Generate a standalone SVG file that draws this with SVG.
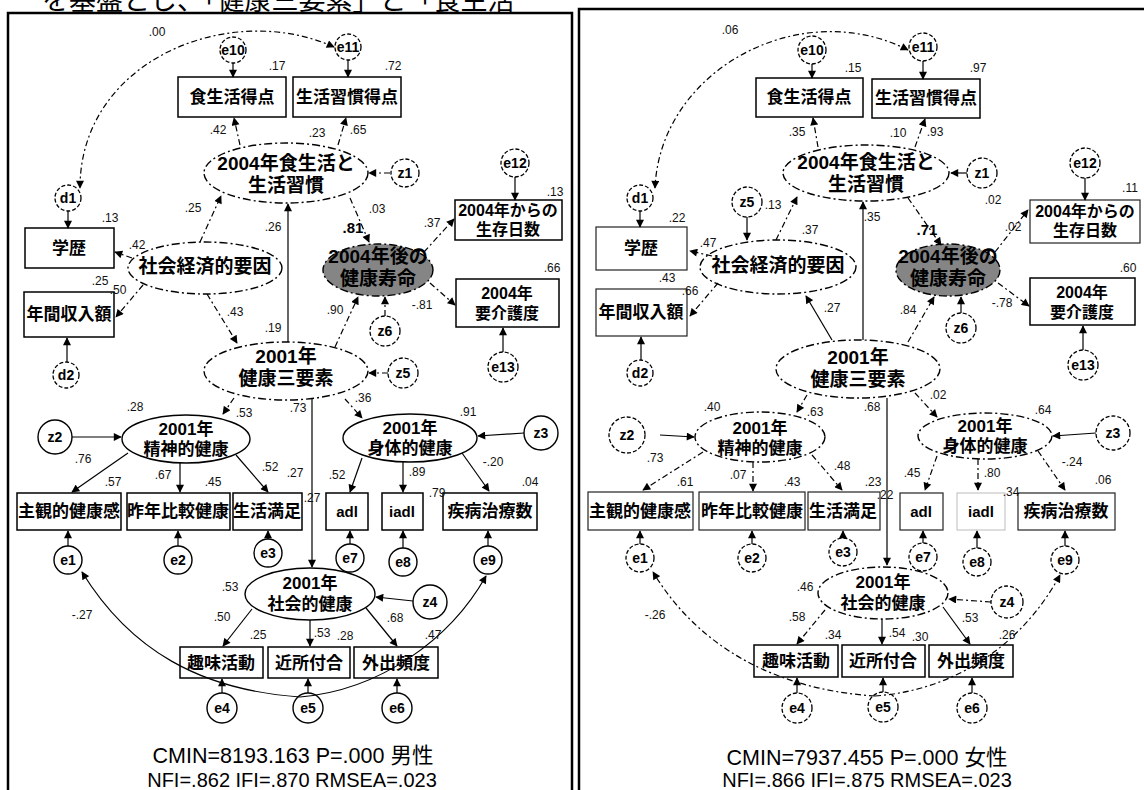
<svg xmlns="http://www.w3.org/2000/svg" width="1144" height="790" viewBox="0 0 1144 790">
<defs>
<marker id="ah" viewBox="0 0 10 10" refX="9" refY="5" markerWidth="9" markerHeight="8" markerUnits="userSpaceOnUse" orient="auto-start-reverse"><path d="M0,0 L10,5 L0,10 z" fill="#000"/></marker>
<style>
.bx{fill:#fff;stroke:#000;stroke-width:1.5}
.bxr{fill:#fff;stroke:#222;stroke-width:1.2}
.el{fill:#fff;stroke:#000;stroke-width:1.4}
.elg{fill:#858585;stroke:#000;stroke-width:1.4;stroke-dasharray:8 3 2 3}
.d{stroke-dasharray:8 3 2 3}
.cs{fill:#fff;stroke:#000;stroke-width:1.4}
.cd{fill:#fff;stroke:#000;stroke-width:1.3;stroke-dasharray:4 2}
.ln{fill:none;stroke:#000;stroke-width:1.2;marker-end:url(#ah)}
.lnd{fill:none;stroke:#000;stroke-width:1.2;stroke-dasharray:6 3 2 3;marker-end:url(#ah)}
.jt{font-family:"Liberation Sans","Noto Sans CJK JP",sans-serif;font-weight:bold;text-anchor:middle;fill:#000}
.big{font-size:19px}
.mid{font-size:17px}
.sm{font-size:16px}
.ct{font-family:"Liberation Sans",Arial,sans-serif;font-weight:bold;font-size:14px;text-anchor:middle}
.at{font-family:"Liberation Sans",Arial,sans-serif;font-weight:bold;font-size:15px;text-anchor:middle}
.nm{font-family:"Liberation Sans",Arial,sans-serif;font-size:12px;text-anchor:middle;fill:#111}
.nb{font-family:"Liberation Sans",Arial,sans-serif;font-size:15px;font-weight:bold;text-anchor:middle}
.ft{font-family:"Liberation Sans","Noto Sans CJK JP",sans-serif;text-anchor:middle;fill:#000}
.frame{fill:none;stroke:#000}
</style>
</defs>
<rect width="1144" height="790" fill="#fff"/>
<text x="42" y="10" style="font-family:'Noto Sans CJK JP',sans-serif;font-size:27px;fill:#000">を基盤とし、「健康三要素」と「食生活</text>

<g id="frames">
<path class="frame" d="M8,790 V13 H572 V790" stroke-width="2.5"/>
<path class="frame" d="M579,790 V9 H1144" stroke-width="2.5"/>
</g>

<!-- LEFT PANEL NODES -->
<g id="L_e10"><circle class="cd" cx="233" cy="50" r="13"/><text class="ct" x="233" y="55">e10</text></g>
<g id="L_e11"><circle class="cd" cx="348" cy="47" r="13"/><text class="ct" x="348" y="52">e11</text></g>
<g id="L_food"><rect class="bx" x="178" y="77" width="108" height="40"/><text class="jt mid" x="232" y="103">食生活得点</text></g>
<g id="L_habit"><rect class="bx" x="293" y="77" width="108" height="40"/><text class="jt mid" x="347" y="103">生活習慣得点</text></g>
<g id="L_lifestyle"><ellipse class="el d" cx="286" cy="173" rx="82" ry="30"/><text class="jt big" x="286" y="170">2004年食生活と<tspan x="286" dy="22">生活習慣</tspan></text></g>
<g id="L_z1"><circle class="cd" cx="405" cy="173" r="14"/><text class="ct" x="405" y="178">z1</text></g>
<g id="L_d1"><circle class="cd" cx="68" cy="198" r="13"/><text class="ct" x="68" y="203">d1</text></g>
<g id="L_edu"><rect class="bx" x="25" y="228" width="89" height="40"/><text class="jt mid" x="69" y="254">学歴</text></g>
<g id="L_ses"><ellipse class="el d" cx="205" cy="268" rx="77" ry="26"/><text class="jt big" x="205" y="273">社会経済的要因</text></g>
<g id="L_income"><rect class="bx" x="24" y="292" width="90" height="45" stroke-width="2.2"/><text class="jt mid" x="69" y="320">年間収入額</text></g>
<g id="L_d2"><circle class="cd" cx="66" cy="375" r="13"/><text class="ct" x="66" y="380">d2</text></g>
<g id="L_hle"><ellipse class="elg" cx="378" cy="270" rx="55" ry="26"/><text class="jt big" x="378" y="263">2004年後の<tspan x="378" dy="22">健康寿命</tspan></text></g>
<g id="L_e12"><circle class="cd" cx="515" cy="163" r="14"/><text class="ct" x="515" y="168">e12</text></g>
<g id="L_surv"><rect class="bx" x="455" y="200" width="107" height="40"/><text class="jt sm" x="508" y="216">2004年からの<tspan x="508" dy="19">生存日数</tspan></text></g>
<g id="L_care"><rect class="bx" x="456" y="279" width="103" height="48"/><text class="jt sm" x="507" y="299">2004年<tspan x="507" dy="20">要介護度</tspan></text></g>
<g id="L_z6"><circle class="cd" cx="385" cy="331" r="15"/><text class="ct" x="385" y="336">z6</text></g>
<g id="L_e13"><circle class="cd" cx="503" cy="367" r="15"/><text class="ct" x="503" y="372">e13</text></g>
<g id="L_h3"><ellipse class="el d" cx="286" cy="371" rx="82" ry="29"/><text class="jt big" x="286" y="363">2001年<tspan x="286" dy="22">健康三要素</tspan></text></g>
<g id="L_z5"><circle class="cd" cx="403" cy="373" r="15"/><text class="ct" x="403" y="378">z5</text></g>
<g id="L_mental"><ellipse class="el" cx="186" cy="439" rx="64" ry="24"/><text class="jt mid" x="186" y="435">2001年<tspan x="186" dy="20">精神的健康</tspan></text></g>
<g id="L_z2"><circle class="cs" cx="55" cy="437" r="17"/><text class="ct" x="55" y="442">z2</text></g>
<g id="L_phys"><ellipse class="el" cx="410" cy="438" rx="67" ry="24"/><text class="jt mid" x="410" y="434">2001年<tspan x="410" dy="20">身体的健康</tspan></text></g>
<g id="L_z3"><circle class="cs" cx="541" cy="433" r="17"/><text class="ct" x="541" y="438">z3</text></g>
<g id="L_b1"><rect class="bx" x="17" y="493" width="104" height="37"/><text class="jt mid" x="69" y="517">主観的健康感</text></g>
<g id="L_b2"><rect class="bx" x="127" y="493" width="103" height="37"/><text class="jt mid" x="178" y="517">昨年比較健康</text></g>
<g id="L_b3"><rect class="bx" x="233" y="493" width="69" height="37"/><text class="jt mid" x="267" y="517">生活満足</text></g>
<g id="L_adl"><rect class="bx" x="326" y="493" width="42" height="37"/><text class="at" x="347" y="517">adl</text></g>
<g id="L_iadl"><rect class="bx" x="382" y="493" width="41" height="37"/><text class="at" x="402" y="517">iadl</text></g>
<g id="L_dis"><rect class="bx" x="443" y="493" width="94" height="37"/><text class="jt mid" x="490" y="517">疾病治療数</text></g>
<g id="L_e1"><circle class="cs" cx="68" cy="560" r="14"/><text class="ct" x="68" y="565">e1</text></g>
<g id="L_e2"><circle class="cs" cx="178" cy="560" r="14"/><text class="ct" x="178" y="565">e2</text></g>
<g id="L_e3"><circle class="cs" cx="268" cy="553" r="14"/><text class="ct" x="268" y="558">e3</text></g>
<g id="L_e7"><circle class="cs" cx="350" cy="558" r="14"/><text class="ct" x="350" y="563">e7</text></g>
<g id="L_e8"><circle class="cs" cx="403" cy="562" r="14"/><text class="ct" x="403" y="567">e8</text></g>
<g id="L_e9"><circle class="cs" cx="488" cy="560" r="14"/><text class="ct" x="488" y="565">e9</text></g>
<g id="L_social"><ellipse class="el" cx="310" cy="594" rx="65" ry="26"/><text class="jt mid" x="310" y="589">2001年<tspan x="310" dy="21">社会的健康</tspan></text></g>
<g id="L_z4"><circle class="cs" cx="430" cy="602" r="17"/><text class="ct" x="430" y="607">z4</text></g>
<g id="L_hob"><rect class="bx" x="180" y="647" width="83" height="31"/><text class="jt mid" x="221" y="669">趣味活動</text></g>
<g id="L_nei"><rect class="bx" x="268" y="647" width="82" height="31"/><text class="jt mid" x="309" y="669">近所付合</text></g>
<g id="L_out"><rect class="bx" x="354" y="647" width="84" height="31"/><text class="jt mid" x="396" y="669">外出頻度</text></g>
<g id="L_e4"><circle class="cs" cx="222" cy="708" r="15"/><text class="ct" x="222" y="713">e4</text></g>
<g id="L_e5"><circle class="cs" cx="308" cy="708" r="15"/><text class="ct" x="308" y="713">e5</text></g>
<g id="L_e6"><circle class="cs" cx="397" cy="708" r="15"/><text class="ct" x="397" y="713">e6</text></g>

<!-- RIGHT PANEL NODES -->
<g id="R_e10"><circle class="cd" cx="812" cy="50" r="14"/><text class="ct" x="812" y="55">e10</text></g>
<g id="R_e11"><circle class="cd" cx="923" cy="47" r="14"/><text class="ct" x="923" y="52">e11</text></g>
<g id="R_food"><rect class="bx" x="756" y="78" width="107" height="39"/><text class="jt mid" x="809" y="103">食生活得点</text></g>
<g id="R_habit"><rect class="bx" x="872" y="79" width="108" height="39"/><text class="jt mid" x="926" y="104">生活習慣得点</text></g>
<g id="R_lifestyle"><ellipse class="el d" cx="866" cy="173" rx="83" ry="28"/><text class="jt big" x="866" y="169">2004年食生活と<tspan x="866" dy="22">生活習慣</tspan></text></g>
<g id="R_z1"><circle class="cd" cx="982" cy="173" r="15"/><text class="ct" x="982" y="178">z1</text></g>
<g id="R_d1"><circle class="cd" cx="640" cy="198" r="13"/><text class="ct" x="640" y="203">d1</text></g>
<g id="R_z5"><circle class="cd" cx="747" cy="202" r="15"/><text class="ct" x="747" y="207">z5</text></g>
<g id="R_edu"><rect class="bxr" x="596" y="227" width="91" height="43"/><text class="jt mid" x="641" y="254">学歴</text></g>
<g id="R_ses"><ellipse class="el d" cx="778" cy="267" rx="78" ry="27"/><text class="jt big" x="778" y="272">社会経済的要因</text></g>
<g id="R_income"><rect class="bxr" x="596" y="289" width="91" height="47"/><text class="jt mid" x="641" y="318">年間収入額</text></g>
<g id="R_d2"><circle class="cd" cx="640" cy="373" r="13"/><text class="ct" x="640" y="378">d2</text></g>
<g id="R_hle"><ellipse class="elg" cx="948" cy="270" rx="52" ry="26"/><text class="jt big" x="948" y="263">2004年後の<tspan x="948" dy="22">健康寿命</tspan></text></g>
<g id="R_e12"><circle class="cd" cx="1085" cy="163" r="15"/><text class="ct" x="1085" y="168">e12</text></g>
<g id="R_surv"><rect class="bxr" x="1030" y="200" width="110" height="43"/><text class="jt sm" x="1085" y="217">2004年からの<tspan x="1085" dy="19">生存日数</tspan></text></g>
<g id="R_care"><rect class="bx" x="1030" y="278" width="105" height="47"/><text class="jt sm" x="1082" y="298">2004年<tspan x="1082" dy="20">要介護度</tspan></text></g>
<g id="R_z6"><circle class="cd" cx="961" cy="328" r="15"/><text class="ct" x="961" y="333">z6</text></g>
<g id="R_e13"><circle class="cd" cx="1083" cy="365" r="15"/><text class="ct" x="1083" y="370">e13</text></g>
<g id="R_h3"><ellipse class="el d" cx="858" cy="369" rx="82" ry="29"/><text class="jt big" x="858" y="364">2001年<tspan x="858" dy="22">健康三要素</tspan></text></g>
<g id="R_mental"><ellipse class="el d" cx="760" cy="437" rx="65" ry="25"/><text class="jt mid" x="760" y="434">2001年<tspan x="760" dy="20">精神的健康</tspan></text></g>
<g id="R_z2"><circle class="cd" cx="627" cy="435" r="18"/><text class="ct" x="627" y="440">z2</text></g>
<g id="R_phys"><ellipse class="el d" cx="985" cy="436" rx="67" ry="23"/><text class="jt mid" x="985" y="432">2001年<tspan x="985" dy="20">身体的健康</tspan></text></g>
<g id="R_z3"><circle class="cd" cx="1113" cy="433" r="17"/><text class="ct" x="1113" y="438">z3</text></g>
<g id="R_b1"><rect class="bxr" x="588" y="492" width="105" height="38"/><text class="jt mid" x="640" y="517">主観的健康感</text></g>
<g id="R_b2"><rect class="bxr" x="699" y="492" width="106" height="38"/><text class="jt mid" x="752" y="517">昨年比較健康</text></g>
<g id="R_b3"><rect class="bxr" x="808" y="492" width="72" height="38"/><text class="jt mid" x="843" y="517">生活満足</text></g>
<g id="R_adl"><rect class="bxr" x="900" y="493" width="43" height="37"/><text class="at" x="921" y="517">adl</text></g>
<g id="R_iadl"><rect x="957" y="493" width="48" height="37" fill="#fff" stroke="#bbb" stroke-width="1"/><text class="at" x="981" y="517">iadl</text></g>
<g id="R_dis"><rect class="bxr" x="1018" y="493" width="97" height="37"/><text class="jt mid" x="1066" y="517">疾病治療数</text></g>
<g id="R_e1"><circle class="cd" cx="640" cy="558" r="14"/><text class="ct" x="640" y="563">e1</text></g>
<g id="R_e2"><circle class="cd" cx="752" cy="558" r="14"/><text class="ct" x="752" y="563">e2</text></g>
<g id="R_e3"><circle class="cd" cx="843" cy="552" r="14"/><text class="ct" x="843" y="557">e3</text></g>
<g id="R_e7"><circle class="cd" cx="923" cy="557" r="14"/><text class="ct" x="923" y="562">e7</text></g>
<g id="R_e8"><circle class="cd" cx="977" cy="562" r="14"/><text class="ct" x="977" y="567">e8</text></g>
<g id="R_e9"><circle class="cd" cx="1065" cy="560" r="14"/><text class="ct" x="1065" y="565">e9</text></g>
<g id="R_social"><ellipse class="el d" cx="883" cy="593" rx="65" ry="26"/><text class="jt mid" x="883" y="588">2001年<tspan x="883" dy="21">社会的健康</tspan></text></g>
<g id="R_z4"><circle class="cd" cx="1007" cy="602" r="16"/><text class="ct" x="1007" y="607">z4</text></g>
<g id="R_hob"><rect class="bx" x="754" y="645" width="84" height="32"/><text class="jt mid" x="796" y="667">趣味活動</text></g>
<g id="R_nei"><rect class="bx" x="842" y="645" width="83" height="32"/><text class="jt mid" x="883" y="667">近所付合</text></g>
<g id="R_out"><rect class="bx" x="929" y="645" width="84" height="32"/><text class="jt mid" x="971" y="667">外出頻度</text></g>
<g id="R_e4"><circle class="cd" cx="797" cy="708" r="15"/><text class="ct" x="797" y="713">e4</text></g>
<g id="R_e5"><circle class="cd" cx="883" cy="707" r="15"/><text class="ct" x="883" y="712">e5</text></g>
<g id="R_e6"><circle class="cd" cx="972" cy="708" r="15"/><text class="ct" x="972" y="713">e6</text></g>

<g id="connectors">
<!-- left -->
<path class="lnd" d="M334,47 C230,0 80,60 80,188" style="marker-start:url(#ah)"/>
<path class="ln" d="M233,63 V77"/>
<path class="ln" d="M348,60 V77"/>
<path class="lnd" d="M240,145 L234,118"/>
<path class="lnd" d="M338,145 L346,118"/>
<path class="lnd" d="M390,173 H369"/>
<path class="ln" d="M68,211 V228"/>
<path class="lnd" d="M132,258 L115,252"/>
<path class="lnd" d="M200,242 L221,196"/>
<path class="lnd" d="M143,285 L116,317"/>
<path class="lnd" d="M207,294 L237,343"/>
<path class="ln" d="M67,362 V338"/>
<path class="ln" d="M288,342 V204"/>
<path class="lnd" d="M350,198 L369,242"/>
<path class="lnd" d="M335,347 L358,297"/>
<path class="lnd" d="M385,316 V297"/>
<path class="ln" d="M515,177 V200"/>
<path class="lnd" d="M424,252 L454,219"/>
<path class="lnd" d="M430,283 L455,305"/>
<path class="ln" d="M503,352 V328"/>
<path class="lnd" d="M388,373 H369"/>
<path class="lnd" d="M234,398 L223,414"/>
<path class="ln" d="M72,437 H121"/>
<path class="ln" d="M128,453 L72,492"/>
<path class="ln" d="M180,463 V492"/>
<path class="ln" d="M236,455 L268,492"/>
<path class="lnd" d="M345,399 L362,418"/>
<path class="ln" d="M524,433 L478,436"/>
<path class="ln" d="M362,458 L350,492"/>
<path class="ln" d="M403,462 V492"/>
<path class="ln" d="M462,453 L489,491"/>
<path class="ln" d="M68,546 V531"/>
<path class="ln" d="M178,546 V531"/>
<path class="ln" d="M268,539 V531"/>
<path class="ln" d="M350,544 V531"/>
<path class="ln" d="M403,548 V531"/>
<path class="ln" d="M488,546 V531"/>
<path class="ln" d="M312,398 V567"/>
<path class="ln" d="M413,601 L376,597"/>
<path class="ln" d="M252,609 L223,646"/>
<path class="ln" d="M310,620 V646"/>
<path class="ln" d="M366,608 L397,646"/>
<path class="ln" d="M222,693 V679"/>
<path class="ln" d="M308,693 V679"/>
<path class="ln" d="M397,693 V679"/>
<path class="ln" d="M300,697 C200,690 130,650 82,572"/>
<path class="ln" d="M300,697 C380,690 450,640 486,576"/>
<!-- right -->
<path class="lnd" d="M908,50 C800,-5 660,70 655,188" style="marker-start:url(#ah)"/>
<path class="ln" d="M812,64 V78"/>
<path class="ln" d="M923,61 V79"/>
<path class="lnd" d="M818,147 L813,118"/>
<path class="lnd" d="M915,147 L925,119"/>
<path class="ln" d="M967,173 H951"/>
<path class="ln" d="M640,211 V227"/>
<path class="ln" d="M747,217 V240"/>
<path class="lnd" d="M712,256 L690,251"/>
<path class="lnd" d="M776,240 L797,197"/>
<path class="lnd" d="M718,283 L690,316"/>
<path class="ln" d="M641,360 V337"/>
<path class="ln" d="M832,340 L806,296"/>
<path class="ln" d="M863,340 V202"/>
<path class="lnd" d="M908,198 L941,245"/>
<path class="lnd" d="M908,342 L934,297"/>
<path class="ln" d="M961,313 V297"/>
<path class="ln" d="M1085,178 V200"/>
<path class="lnd" d="M995,252 L1028,210"/>
<path class="lnd" d="M998,283 L1029,306"/>
<path class="ln" d="M1083,350 V326"/>
<path class="lnd" d="M807,395 L797,412"/>
<path class="ln" d="M660,435 L694,437"/>
<path class="lnd" d="M703,452 L643,490"/>
<path class="lnd" d="M753,462 V491"/>
<path class="lnd" d="M812,455 L842,490"/>
<path class="lnd" d="M915,393 L937,417"/>
<path class="ln" d="M1096,433 L1053,436"/>
<path class="lnd" d="M937,456 L925,490"/>
<path class="lnd" d="M978,459 V490"/>
<path class="lnd" d="M1038,451 L1065,490"/>
<path class="ln" d="M640,544 V531"/>
<path class="ln" d="M752,544 V531"/>
<path class="ln" d="M843,538 V531"/>
<path class="ln" d="M923,543 V531"/>
<path class="ln" d="M977,548 V531"/>
<path class="ln" d="M1065,546 V531"/>
<path class="ln" d="M887,398 V565"/>
<path class="lnd" d="M991,602 L949,599"/>
<path class="lnd" d="M825,610 L797,644"/>
<path class="ln" d="M882,619 V644"/>
<path class="ln" d="M943,607 L970,644"/>
<path class="ln" d="M797,693 V678"/>
<path class="ln" d="M883,692 V678"/>
<path class="ln" d="M972,693 V678"/>
<path class="lnd" d="M875,696 C780,690 700,650 653,572"/>
<path class="lnd" d="M875,696 C960,690 1025,640 1060,575"/>
</g>

<g id="labels">
<text class="nm" x="157" y="36">.00</text>
<text class="nm" x="277" y="70">.17</text>
<text class="nm" x="393" y="70">.72</text>
<text class="nm" x="218" y="134">.42</text>
<text class="nm" x="317" y="137">.23</text>
<text class="nm" x="358" y="134">.65</text>
<text class="nm" x="555" y="196">.13</text>
<text class="nm" x="377" y="213">.03</text>
<text class="nb" x="353" y="233">.81</text>
<text class="nm" x="432" y="227">.37</text>
<text class="nm" x="110" y="222">.13</text>
<text class="nm" x="193" y="212">.25</text>
<text class="nm" x="273" y="231">.26</text>
<text class="nm" x="137" y="249">.42</text>
<text class="nm" x="100" y="285">.25</text>
<text class="nm" x="118" y="294">.50</text>
<text class="nm" x="235" y="316">.43</text>
<text class="nm" x="273" y="332">.19</text>
<text class="nm" x="552" y="272">.66</text>
<text class="nm" x="422" y="309">-.81</text>
<text class="nm" x="335" y="314">.90</text>
<text class="nm" x="135" y="411">.28</text>
<text class="nm" x="244" y="417">.53</text>
<text class="nm" x="298" y="412">.73</text>
<text class="nm" x="363" y="402">.36</text>
<text class="nm" x="468" y="416">.91</text>
<text class="nm" x="83" y="463">.76</text>
<text class="nm" x="113" y="486">.57</text>
<text class="nm" x="163" y="479">.67</text>
<text class="nm" x="213" y="486">.45</text>
<text class="nm" x="270" y="471">.52</text>
<text class="nm" x="295" y="477">.27</text>
<text class="nm" x="312" y="502">.27</text>
<text class="nm" x="337" y="479">.52</text>
<text class="nm" x="417" y="476">.89</text>
<text class="nm" x="493" y="466">-.20</text>
<text class="nm" x="530" y="486">.04</text>
<text class="nm" x="437" y="497">.79</text>
<text class="nm" x="230" y="591">.53</text>
<text class="nm" x="82" y="619">-.27</text>
<text class="nm" x="222" y="621">.50</text>
<text class="nm" x="258" y="639">.25</text>
<text class="nm" x="322" y="637">.53</text>
<text class="nm" x="345" y="640">.28</text>
<text class="nm" x="395" y="622">.68</text>
<text class="nm" x="433" y="639">.47</text>

<text class="nm" x="730" y="34">.06</text>
<text class="nm" x="853" y="72">.15</text>
<text class="nm" x="978" y="72">.97</text>
<text class="nm" x="797" y="136">.35</text>
<text class="nm" x="898" y="137">.10</text>
<text class="nm" x="935" y="136">.93</text>
<text class="nm" x="1130" y="192">.11</text>
<text class="nm" x="993" y="204">.02</text>
<text class="nb" x="927" y="235">.71</text>
<text class="nm" x="1013" y="231">.02</text>
<text class="nm" x="773" y="209">.13</text>
<text class="nm" x="677" y="222">.22</text>
<text class="nm" x="810" y="234">.37</text>
<text class="nm" x="708" y="247">.47</text>
<text class="nm" x="872" y="221">.35</text>
<text class="nm" x="667" y="282">.43</text>
<text class="nm" x="690" y="295">.66</text>
<text class="nm" x="832" y="312">.27</text>
<text class="nm" x="1128" y="272">.60</text>
<text class="nm" x="1002" y="307">-.78</text>
<text class="nm" x="908" y="314">.84</text>
<text class="nm" x="712" y="411">.40</text>
<text class="nm" x="815" y="416">.63</text>
<text class="nm" x="872" y="411">.68</text>
<text class="nm" x="938" y="399">.02</text>
<text class="nm" x="1043" y="414">.64</text>
<text class="nm" x="655" y="462">.73</text>
<text class="nm" x="685" y="486">.61</text>
<text class="nm" x="738" y="479">.07</text>
<text class="nm" x="792" y="486">.43</text>
<text class="nm" x="842" y="470">.48</text>
<text class="nm" x="873" y="486">.23</text>
<text class="nm" x="885" y="499">.22</text>
<text class="nm" x="912" y="477">.45</text>
<text class="nm" x="992" y="477">.80</text>
<text class="nm" x="1072" y="466">-.24</text>
<text class="nm" x="1103" y="484">.06</text>
<text class="nm" x="1011" y="496">.34</text>
<text class="nm" x="805" y="591">.46</text>
<text class="nm" x="655" y="619">-.26</text>
<text class="nm" x="797" y="621">.58</text>
<text class="nm" x="833" y="639">.34</text>
<text class="nm" x="897" y="637">.54</text>
<text class="nm" x="920" y="641">.30</text>
<text class="nm" x="970" y="622">.53</text>
<text class="nm" x="1007" y="639">.26</text>
</g>

<g id="fit">
<text class="ft" x="293" y="763" style="font-size:21.5px">CMIN=8193.163 P=.000  男性</text>
<text class="ft" x="292" y="787" style="font-size:20px">NFI=.862  IFI=.870 RMSEA=.023</text>
<text class="ft" x="867" y="765" style="font-size:21.5px">CMIN=7937.455 P=.000  女性</text>
<text class="ft" x="867" y="787" style="font-size:20px">NFI=.866  IFI=.875 RMSEA=.023</text>
</g>
</svg>
